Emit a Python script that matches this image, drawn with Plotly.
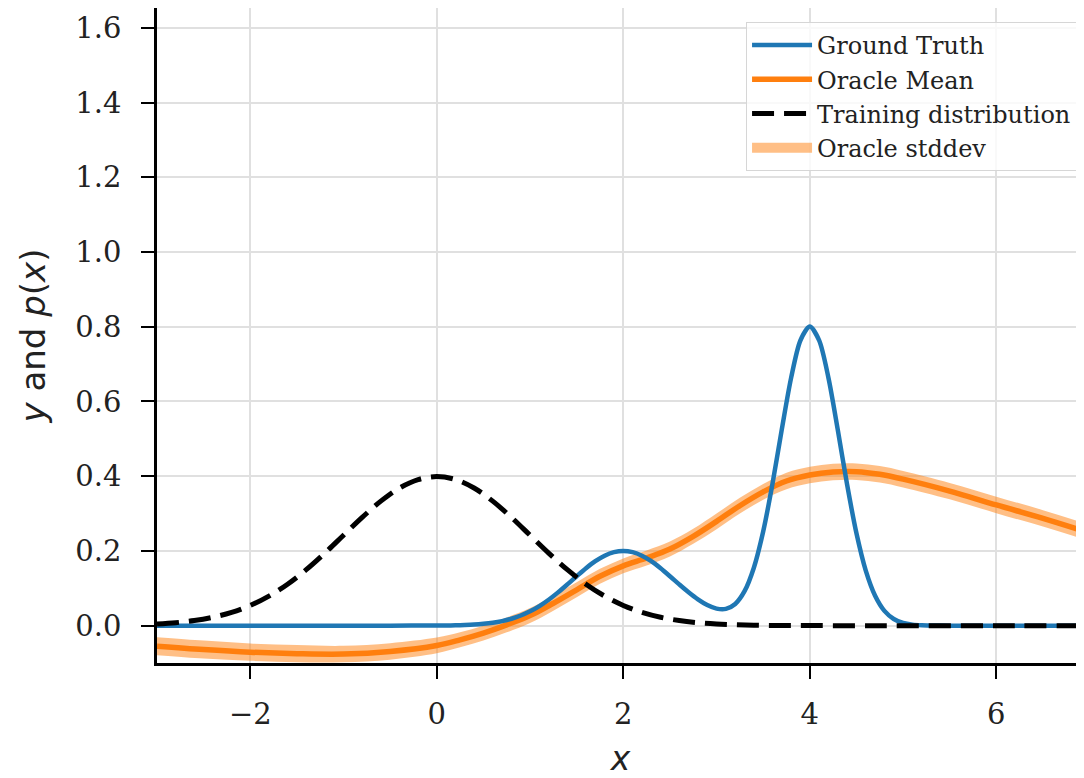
import plotly.graph_objects as go

# ---------------- data ----------------
gt_x = [-3.0, -2.0, -1.0, -0.5, 0.0, 0.1, 0.2, 0.3, 0.4, 0.5, 0.6, 0.7, 0.8, 0.9,
        1.0, 1.1, 1.2, 1.3, 1.4, 1.5, 1.6, 1.7, 1.8, 1.9, 2.0, 2.1, 2.2, 2.3, 2.4,
        2.5, 2.6, 2.7, 2.8, 2.9, 3.0, 3.1, 3.2, 3.3, 3.4, 3.5, 3.6, 3.7, 3.8, 3.9,
        4.0, 4.1, 4.2, 4.3, 4.4, 4.5, 4.6, 4.7, 4.8, 4.9, 5.0, 5.1, 5.2, 5.3, 5.4,
        5.5, 6.0, 6.5, 7.0]
gt_y = [0.0, 0.0, 0.0, 0.0, 0.0003, 0.0005, 0.0009, 0.0017, 0.0029, 0.0049, 0.0078,
        0.0122, 0.0185, 0.0271, 0.0383, 0.0524, 0.0694, 0.0890, 0.1103, 0.1323,
        0.1535, 0.1724, 0.1872, 0.1967, 0.2000, 0.1967, 0.1872, 0.1724, 0.1535,
        0.1323, 0.1104, 0.0893, 0.0703, 0.0551, 0.0456, 0.0449, 0.0580, 0.0922,
        0.1551, 0.2520, 0.3801, 0.5258, 0.6638, 0.7638, 0.8003, 0.7634, 0.6629,
        0.5241, 0.3772, 0.2471, 0.1473, 0.0800, 0.0395, 0.0178, 0.0073, 0.0027,
        0.0009, 0.0003, 0.0001, 0.0, 0.0, 0.0, 0.0]

train_x = [-3.0, -2.8, -2.6, -2.4, -2.2, -2.0, -1.8, -1.6, -1.4, -1.2, -1.0, -0.8,
           -0.6, -0.4, -0.2, 0.0, 0.2, 0.4, 0.6, 0.8, 1.0, 1.2, 1.4, 1.6, 1.8, 2.0,
           2.2, 2.4, 2.6, 2.8, 3.0, 3.2, 3.4, 3.6, 3.8, 4.0, 4.5, 5.0, 6.0, 7.0]
train_y = [0.0044, 0.0079, 0.0136, 0.0224, 0.0355, 0.0540, 0.0790, 0.1109, 0.1497,
           0.1942, 0.2420, 0.2897, 0.3332, 0.3683, 0.3910, 0.3989, 0.3910, 0.3683,
           0.3332, 0.2897, 0.2420, 0.1942, 0.1497, 0.1109, 0.0790, 0.0540, 0.0355,
           0.0224, 0.0136, 0.0079, 0.0044, 0.0024, 0.0012, 0.0006, 0.0003, 0.0001,
           0.0, 0.0, 0.0, 0.0]

mean_x = [-3.0, -2.5, -2.0, -1.5, -1.0, -0.5, 0.0, 0.25, 0.5, 0.75, 1.0, 1.25, 1.5,
          1.75, 2.0, 2.25, 2.5, 2.75, 3.0, 3.25, 3.5, 3.75, 4.0, 4.25, 4.5, 4.75,
          5.0, 5.5, 6.0, 6.5, 7.0]
mean_y = [-0.055, -0.064, -0.071, -0.075, -0.076, -0.069, -0.053, -0.038, -0.020,
          0.002, 0.027, 0.060, 0.096, 0.132, 0.160, 0.181, 0.205, 0.239, 0.279,
          0.321, 0.358, 0.387, 0.403, 0.411, 0.412, 0.405, 0.392, 0.360, 0.323,
          0.287, 0.248]
std_y = [0.024, 0.024, 0.023, 0.023, 0.022, 0.022, 0.021, 0.020, 0.020, 0.020,
         0.020, 0.020, 0.020, 0.020, 0.020, 0.020, 0.020, 0.020, 0.021, 0.021,
         0.021, 0.022, 0.022, 0.022, 0.022, 0.022, 0.022, 0.022, 0.022, 0.022, 0.022]

x_ticks = [-2, 0, 2, 4, 6]
y_ticks = [0.0, 0.2, 0.4, 0.6, 0.8, 1.0, 1.2, 1.4, 1.6]

BLUE = "#1f77b4"
ORANGE = "#ff7f0e"
BAND = "rgba(255,127,14,0.5)"

lower = [m - s for m, s in zip(mean_y, std_y)]
upper = [m + s for m, s in zip(mean_y, std_y)]

fig = go.Figure()

fig.add_trace(go.Scatter(x=mean_x, y=lower, mode="lines", line=dict(width=0, shape="spline"),
                         showlegend=False, hoverinfo="skip", legendgroup="std"))
fig.add_trace(go.Scatter(x=mean_x, y=upper, mode="lines", line=dict(width=0, shape="spline"),
                         fill="tonexty", fillcolor=BAND, showlegend=False,
                         name="Oracle stddev", legendgroup="std"))
fig.add_trace(go.Scatter(x=mean_x, y=mean_y, mode="lines",
                         line=dict(color=ORANGE, width=5.5, shape="spline"),
                         name="Oracle Mean", legendrank=2))
fig.add_trace(go.Scatter(x=gt_x, y=gt_y, mode="lines",
                         line=dict(color=BLUE, width=4.5, shape="spline", smoothing=0.8),
                         name="Ground Truth", legendrank=1))
fig.add_trace(go.Scatter(x=train_x, y=train_y, mode="lines",
                         line=dict(color="black", width=5, dash="22px,10px", shape="spline"),
                         name="Training distribution", legendrank=3))
# legend swatch for the band (a wide patch like matplotlib's)
fig.add_trace(go.Scatter(x=[None], y=[None], mode="lines",
                         line=dict(color=BAND, width=17),
                         name="Oracle stddev", legendgroup="std", legendrank=4))

axis_common = dict(
    showline=True, linecolor="black", linewidth=2.5,
    ticks="outside", ticklen=13, tickwidth=2, tickcolor="black",
    showgrid=True, gridcolor="#e0e0e0", gridwidth=2,
    zeroline=False, mirror=False,
    tickfont=dict(family="DejaVu Serif", size=29, color="#222"),
)

fig.update_xaxes(range=[-3, 6.94], tickvals=x_ticks, ticklabelstandoff=10,
                 title=dict(text="<i>x</i>", font=dict(family="DejaVu Sans", size=33, color="#222"),
                            standoff=24),
                 **axis_common)
fig.update_yaxes(range=[-0.1, 1.653], tickvals=y_ticks, tickformat=".1f", ticklabelstandoff=14,
                 title=dict(text="<i>y</i> and <i>p</i>(<i>x</i>)",
                            font=dict(family="DejaVu Sans", size=34, color="#222"),
                            standoff=20),
                 **axis_common)

# the page adds an 8px body margin, so the figure is sized/placed to compensate
fig.update_layout(
    width=1076, height=770,
    margin=dict(l=149, r=0, t=0, b=115, autoexpand=False),
    paper_bgcolor="white", plot_bgcolor="white",
    legend=dict(x=0.9925, y=0.9786, xanchor="right", yanchor="top",
                bgcolor="rgba(255,255,255,0.8)", bordercolor="#d6d6d6", borderwidth=1,
                font=dict(family="DejaVu Serif", size=24, color="#222"),
                itemwidth=60, traceorder="normal"),
    showlegend=True,
)

fig.write_html("out.html")
